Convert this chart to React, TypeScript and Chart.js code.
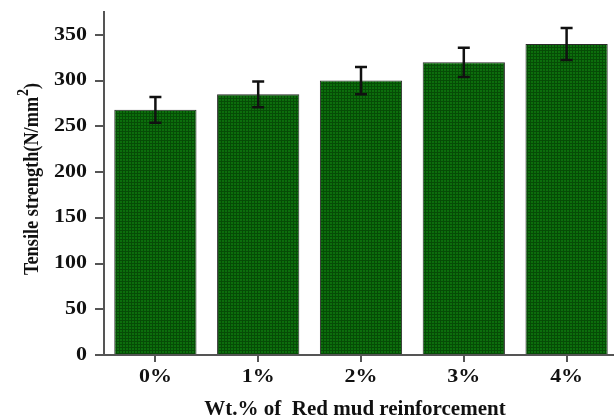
import React, { useEffect, useRef } from "react";
import { Chart, registerables } from "chart.js";

Chart.register(...registerables);

const categories = ["0%", "1%", "2%", "3%", "4%"];
const strengths = [268, 285, 300, 320, 340];
const errors = [14, 14, 15, 16, 17.5];
const yTicks = [0, 50, 100, 150, 200, 250, 300, 350];
const yTitle = "Tensile strength(N/mm";
const yTitleSup = "2";
const yTitleEnd = ")";
const xTitle = "Wt.% of  Red mud reinforcement";

const FONT = '"Liberation Serif", "Times New Roman", serif';

function makePattern(): CanvasPattern | string {
  const c = document.createElement("canvas");
  c.width = 3;
  c.height = 3;
  const g = c.getContext("2d");
  if (!g) return "#0a660a";
  g.fillStyle = "#0c6e0c";
  g.fillRect(0, 0, 3, 3);
  g.fillStyle = "#064c06";
  g.fillRect(2, 0, 1, 3);
  g.fillRect(0, 2, 3, 1);
  const p = g.createPattern(c, "repeat");
  return p || "#0a660a";
}

const errorBarPlugin = {
  id: "errorBars",
  afterDatasetsDraw(chart: any) {
    const ctx = chart.ctx;
    const meta = chart.getDatasetMeta(0);
    const ys = chart.scales.y;
    ctx.save();
    ctx.strokeStyle = "#111";
    ctx.lineWidth = 2.5;
    meta.data.forEach((el: any, i: number) => {
      const x = el.x;
      const top = ys.getPixelForValue(strengths[i] + errors[i]);
      const bot = ys.getPixelForValue(strengths[i] - errors[i]);
      ctx.beginPath();
      ctx.moveTo(x, top);
      ctx.lineTo(x, bot);
      ctx.moveTo(x - 6, top);
      ctx.lineTo(x + 6, top);
      ctx.moveTo(x - 6, bot);
      ctx.lineTo(x + 6, bot);
      ctx.stroke();
    });
    ctx.restore();
  },
};

const labelsPlugin = {
  id: "customLabels",
  afterDraw(chart: any) {
    const ctx = chart.ctx;
    const xs = chart.scales.x;
    const ys = chart.scales.y;
    ctx.save();
    ctx.fillStyle = "#111";
    ctx.font = `bold 18px ${FONT}`;
    yTicks.forEach((v) => {
      const y = ys.getPixelForValue(v);
      ctx.save();
      ctx.translate(87, y);
      ctx.scale(1.22, 1);
      ctx.textAlign = "right";
      ctx.textBaseline = "middle";
      ctx.fillText(String(v), 0, 0);
      ctx.restore();
    });
    categories.forEach((c, i) => {
      const x = xs.getPixelForValue(i);
      ctx.save();
      ctx.translate(x, 377);
      ctx.scale(1.22, 1);
      ctx.textAlign = "center";
      ctx.textBaseline = "middle";
      ctx.fillText(c, 0, 0);
      ctx.restore();
    });
    ctx.font = `bold 21px ${FONT}`;
    ctx.textAlign = "center";
    ctx.textBaseline = "alphabetic";
    ctx.fillText(xTitle, (xs.left + 614) / 2 - 4, 415);
    ctx.save();
    ctx.translate(38, 275);
    ctx.rotate(-Math.PI / 2);
    ctx.scale(0.87, 1);
    ctx.textAlign = "left";
    ctx.textBaseline = "alphabetic";
    ctx.font = `bold 21px ${FONT}`;
    ctx.fillText(yTitle, 0, 0);
    let w = ctx.measureText(yTitle).width;
    ctx.font = `bold 16px ${FONT}`;
    ctx.fillText(yTitleSup, w + 1, -10);
    w += ctx.measureText(yTitleSup).width + 1;
    ctx.font = `bold 21px ${FONT}`;
    ctx.fillText(yTitleEnd, w, 0);
    ctx.restore();
    ctx.restore();
  },
};

export default function App() {
  const ref = useRef<HTMLCanvasElement | null>(null);
  useEffect(() => {
    if (!ref.current) return;
    const chart = new Chart(ref.current, {
      type: "bar",
      data: {
        labels: categories,
        datasets: [
          {
            data: strengths,
            backgroundColor: makePattern() as any,
            borderColor: "#2a2a2a",
            borderWidth: 1,
            barPercentage: 0.8,
            categoryPercentage: 1,
          },
        ],
      },
      options: {
        responsive: false,
        animation: false,
        devicePixelRatio: 1,
        layout: { padding: { top: 12, left: 0, right: 0, bottom: 0 } },
        plugins: {
          legend: { display: false },
          tooltip: { enabled: false },
          title: { display: false },
        },
        scales: {
          x: {
            offset: true,
            afterFit: (s: any) => {
              s.height = 64;
            },
            ticks: { display: false },
            grid: {
              offset: false,
              drawOnChartArea: false,
              drawTicks: true,
              tickLength: 7,
              color: "#555",
              lineWidth: 2,
            },
            border: { display: true, color: "#555", width: 2 },
          },
          y: {
            min: 0,
            max: 375,
            afterFit: (s: any) => {
              s.width = 104;
            },
            afterBuildTicks: (s: any) => {
              s.ticks = yTicks.map((v) => ({ value: v }));
            },
            ticks: { display: false, stepSize: 50 },
            grid: {
              drawOnChartArea: false,
              drawTicks: true,
              tickLength: 9,
              color: "#555",
              lineWidth: 2,
            },
            border: { display: true, color: "#555", width: 2 },
          },
        },
      },
      plugins: [errorBarPlugin, labelsPlugin],
    });
    return () => chart.destroy();
  }, []);
  return (
    <div
      style={{
        position: "fixed",
        left: 0,
        top: 0,
        width: 614,
        height: 419,
        overflow: "hidden",
        background: "#fff",
      }}
    >
      <canvas ref={ref} width={618} height={419} style={{ width: 618, height: 419, display: "block" }} />
    </div>
  );
}
